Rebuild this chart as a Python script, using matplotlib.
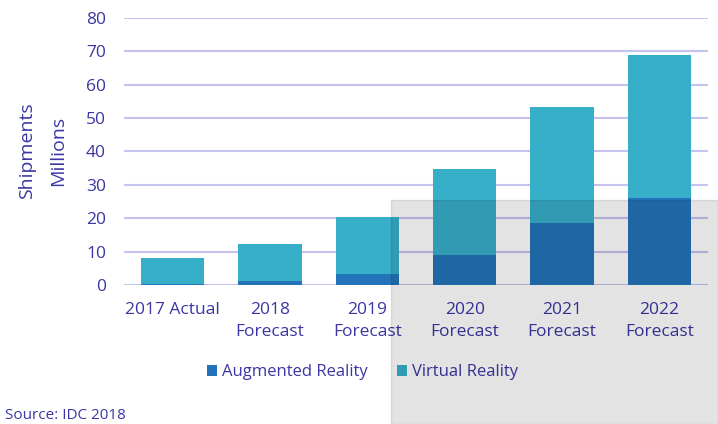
import matplotlib
matplotlib.use("Agg")
import matplotlib.pyplot as plt
from matplotlib.patches import Rectangle

categories = ["2017 Actual", "2018\nForecast", "2019\nForecast",
              "2020\nForecast", "2021\nForecast", "2022\nForecast"]
ar = [0.3, 1.2, 3.2, 8.9, 18.5, 26.0]
total = [8.0, 12.3, 20.3, 34.6, 53.3, 68.9]
vr = [t - a for t, a in zip(total, ar)]
yticks = [0, 10, 20, 30, 40, 50, 60, 70, 80]

TXT = "#3b36a3"
AR_C = "#2373ba"
VR_C = "#37afc9"
GRID = "#c4c2ee"

plt.rcParams["font.family"] = ["Open Sans", "DejaVu Sans"]

fig = plt.figure(figsize=(7.18, 4.24), dpi=100)
ax = fig.add_axes([0.1727, 0.328, 0.8133, 0.6295])
x = range(len(categories))
ax.bar(x, ar, width=0.65, color=AR_C, label="Augmented Reality", zorder=3)
ax.bar(x, vr, bottom=ar, width=0.65, color=VR_C, label="Virtual Reality", zorder=3)

ax.set_xlim(-0.5, len(categories) - 0.5)
ax.set_ylim(0, 80)
ax.set_yticks(yticks)
ax.yaxis.grid(True, color=GRID, linewidth=1.5, zorder=0)
ax.set_axisbelow(True)
for s in ax.spines.values():
    s.set_visible(False)
ax.tick_params(length=0, labelsize=12.5, colors=TXT)
ax.tick_params(axis="y", pad=13)
ax.tick_params(axis="x", pad=12)
ax.set_xticks(list(x))
ax.set_xticklabels(categories, linespacing=1.55)

fig.text(0.038, 0.645, "Shipments", rotation=90, ha="center", va="center",
         fontsize=14, color=TXT)
fig.text(0.081, 0.645, "Millions", rotation=90, ha="center", va="center",
         fontsize=14, color=TXT)

leg = fig.legend(loc="center", bbox_to_anchor=(0.505, 0.122), ncol=2, frameon=False,
                 fontsize=12, handlelength=0.6, handleheight=0.6, handletextpad=0.3,
                 columnspacing=1.8)
for t in leg.get_texts():
    t.set_color(TXT)

fig.text(0.007, 0.002, "Source: IDC 2018", ha="left", va="bottom", fontsize=11,
         color=TXT)

# gray watermark panel in the lower right of the original
fig.patches.append(Rectangle((391 / 718, 0), 1 - 391 / 718, 1 - 200 / 424,
                             transform=fig.transFigure, color="black",
                             alpha=0.11, zorder=10))

fig.savefig("out.png", dpi=100)
